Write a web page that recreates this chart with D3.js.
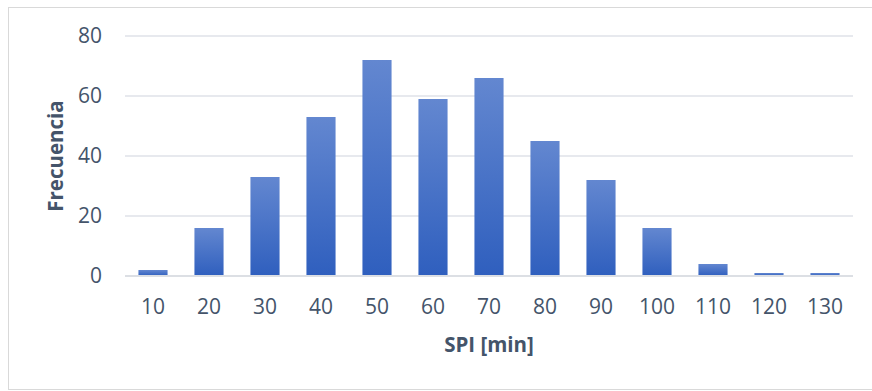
<!DOCTYPE html>
<html>
<head>
<meta charset="utf-8">
<script src="https://cdn.jsdelivr.net/npm/d3@7"></script>
<style>
  html, body { margin: 0; padding: 0; background: #fff; }
  svg { display: block; }
</style>
</head>
<body>
<svg id="chart" width="872" height="391"></svg>
<script>
const categories = ["10","20","30","40","50","60","70","80","90","100","110","120","130"];
const frecuencia = [2, 16, 33, 53, 72, 59, 66, 45, 32, 16, 4, 1, 1];
const yTicks = [0, 20, 40, 60, 80];
const xTitle = "SPI [min]";
const yTitle = "Frecuencia";

const svg = d3.select("#chart");
const W = 872, H = 391;
const m = { left: 125, right: 19, top: 36, bottom: 115 };
const textColor = "#44546a";
const font = "'Open Sans', 'Noto Sans', sans-serif";

// outer border
svg.append("rect")
  .attr("x", 8.5).attr("y", 7.5)
  .attr("width", W + 10).attr("height", 382)
  .attr("fill", "#fff").attr("stroke", "#d9d9d9").attr("stroke-width", 1);

const x = d3.scaleBand().domain(categories).range([m.left, W - m.right]).paddingInner(0.48).paddingOuter(0.24);
const y = d3.scaleLinear().domain([0, 80]).range([H - m.bottom, m.top]);

const defs = svg.append("defs");
const grad = defs.append("linearGradient").attr("id", "barGrad")
  .attr("x1", 0).attr("y1", 0).attr("x2", 0).attr("y2", 1);
grad.append("stop").attr("offset", "0%").attr("stop-color", "#6387d0");
grad.append("stop").attr("offset", "100%").attr("stop-color", "#2f5fbe");

// gridlines
svg.append("g").selectAll("line").data(yTicks).join("line")
  .attr("x1", m.left).attr("x2", W - m.right)
  .attr("y1", d => y(d)).attr("y2", d => y(d))
  .attr("stroke", "#dfe2e8").attr("stroke-width", 1.5);

// bars
svg.append("g").selectAll("rect").data(frecuencia).join("rect")
  .attr("x", (d, i) => x(categories[i]))
  .attr("width", x.bandwidth())
  .attr("y", d => y(d))
  .attr("height", d => y(0) - y(d))
  .attr("fill", "url(#barGrad)");

// baseline
svg.append("line")
  .attr("x1", m.left).attr("x2", W - m.right)
  .attr("y1", y(0)).attr("y2", y(0))
  .attr("stroke", "#dcdfe4").attr("stroke-width", 2);

// y axis (labels only)
const yAxis = d3.axisLeft(y).tickValues(yTicks).tickSize(0).tickPadding(23);
const yg = svg.append("g").attr("transform", `translate(${m.left},0)`).call(yAxis);
yg.select(".domain").remove();
yg.selectAll("text").attr("fill", textColor).style("font-family", font).style("font-size", "21px");

// x axis (labels only)
const xAxis = d3.axisBottom(x).tickSize(0).tickPadding(23);
const xg = svg.append("g").attr("transform", `translate(0,${y(0)})`).call(xAxis);
xg.select(".domain").remove();
xg.selectAll("text").attr("fill", textColor).style("font-family", font).style("font-size", "21px");

// titles
svg.append("text")
  .attr("x", (m.left + W - m.right) / 2).attr("y", 352)
  .attr("text-anchor", "middle")
  .attr("fill", textColor).style("font-family", font).style("font-size", "20.5px").style("font-weight", "bold")
  .text(xTitle);

svg.append("text")
  .attr("transform", `translate(63,156) rotate(-90)`)
  .attr("text-anchor", "middle")
  .attr("fill", textColor).style("font-family", font).style("font-size", "20.5px").style("font-weight", "bold")
  .text(yTitle);
</script>
</body>
</html>
